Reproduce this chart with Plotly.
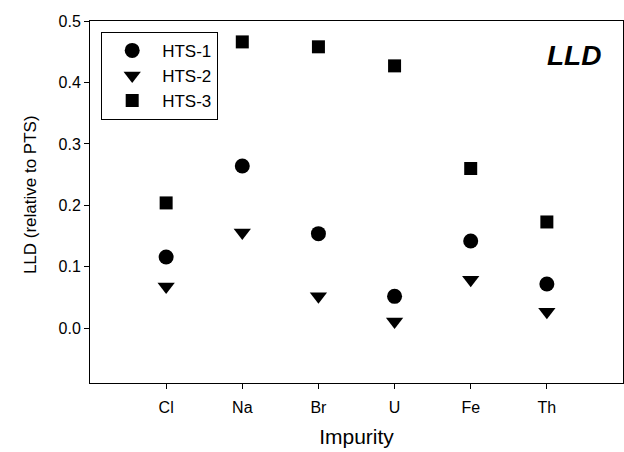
import plotly.graph_objects as go

categories = ["Cl", "Na", "Br", "U", "Fe", "Th"]
hts1 = [0.116, 0.264, 0.154, 0.052, 0.142, 0.072]
hts2 = [0.068, 0.156, 0.052, 0.011, 0.079, 0.027]
hts3 = [0.204, 0.466, 0.458, 0.427, 0.260, 0.173]
y_ticks = [0.0, 0.1, 0.2, 0.3, 0.4, 0.5]

xi = list(range(len(categories)))
fig = go.Figure()
for name, vals, sym, sz in [("HTS-1", hts1, "circle", 15),
                            ("HTS-2", hts2, "triangle-down", 15),
                            ("HTS-3", hts3, "square", 13)]:
    fig.add_trace(go.Scatter(x=xi, y=vals, mode="markers", name=name,
                             marker=dict(symbol=sym, size=sz, color="black")))

font = "Arial, Liberation Sans, sans-serif"
fig.update_layout(
    width=624, height=452,
    margin=dict(l=90, r=1, t=21, b=69, autoexpand=False),
    paper_bgcolor="white", plot_bgcolor="white",
    font=dict(family=font, color="black", size=16),
    showlegend=True,
    legend=dict(x=0.021, y=0.97, xanchor="left", yanchor="top",
                bordercolor="black", borderwidth=1, bgcolor="white",
                font=dict(size=17), itemsizing="trace", tracegroupgap=0,
                itemwidth=50),
    xaxis=dict(range=[-1, 6], tickvals=xi, ticktext=categories,
               showline=True, linecolor="black", linewidth=1, mirror=True,
               ticks="outside", ticklen=5, tickcolor="black", showgrid=False,
               zeroline=False, tickfont=dict(size=16), automargin=False,
               ticklabelstandoff=5,
               title=dict(text="Impurity", font=dict(size=21), standoff=14)),
    yaxis=dict(range=[-0.089, 0.5], tickvals=y_ticks,
               ticktext=[f"{v:.1f}" for v in y_ticks],
               showline=True, linecolor="black", linewidth=1, mirror=True,
               ticks="outside", ticklen=5, tickcolor="black", showgrid=False,
               zeroline=False, tickfont=dict(size=16), automargin=False),
    annotations=[
        dict(text="<b><i>LLD</i></b>", x=0.962, y=0.906, xref="paper", yref="paper",
             xanchor="right", yanchor="middle", showarrow=False,
             font=dict(size=28, family=font)),
        dict(text="LLD (relative to PTS)", x=30, y=0.519, xref="paper", yref="paper",
             xanchor="center", yanchor="middle", showarrow=False, textangle=-90,
             font=dict(size=17, family=font)),
    ],
)
fig.layout.annotations[1].x = (30 - 90) / 533
fig.write_html("out.html", config={"displayModeBar": False},
               post_script="document.body.style.margin='0';document.body.style.overflow='hidden';")
